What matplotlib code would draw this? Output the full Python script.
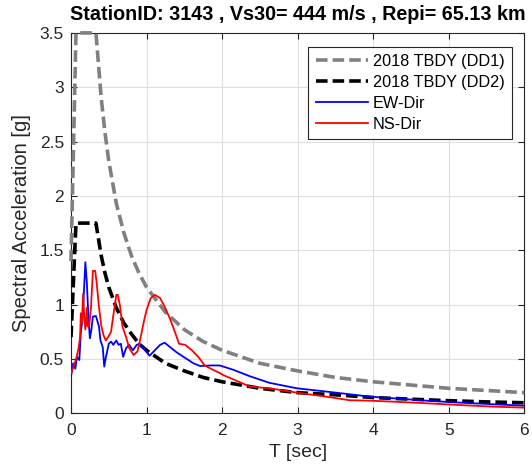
import matplotlib
matplotlib.use("Agg")
import matplotlib.pyplot as plt

plt.rcParams['font.family'] = ['Liberation Sans', 'DejaVu Sans']

# Design spectra
T_dd = [0.0, 0.066, 0.33, 0.4, 0.45, 0.5, 0.6, 0.7, 0.8, 0.9, 1.0, 1.25, 1.5, 1.75,
        2.0, 2.5, 3.0, 3.5, 4.0, 4.5, 5.0, 5.5, 6.0]
dd1 = [1.40, 3.50, 3.50, 2.90, 2.58, 2.32, 1.93, 1.66, 1.45, 1.29, 1.16, 0.93, 0.77, 0.66,
       0.58, 0.46, 0.39, 0.33, 0.29, 0.26, 0.23, 0.21, 0.19]
dd2 = [0.70, 1.75, 1.75, 1.45, 1.29, 1.16, 0.97, 0.83, 0.73, 0.64, 0.58, 0.46, 0.39, 0.33,
       0.29, 0.23, 0.19, 0.17, 0.145, 0.13, 0.116, 0.105, 0.097]

# EW direction
T_ew = [0.0, 0.03, 0.057, 0.08, 0.11, 0.13, 0.155, 0.19, 0.21, 0.23, 0.25, 0.27, 0.29, 0.33,
        0.37, 0.39, 0.42, 0.44, 0.46, 0.50, 0.53, 0.56, 0.60, 0.63, 0.66, 0.69, 0.73, 0.77,
        0.82, 0.87, 0.91, 0.98, 1.04, 1.11, 1.18, 1.24, 1.31, 1.40, 1.51, 1.62, 1.71, 1.84,
        1.97, 2.15, 2.37, 2.63, 2.99, 3.38, 3.69, 3.96, 4.27, 4.71, 5.15, 5.59, 6.0]
ew = [0.34, 0.46, 0.41, 0.52, 0.49, 0.74, 0.89, 1.39, 1.20, 0.89, 0.69, 0.77, 0.89, 0.895,
      0.80, 0.67, 0.61, 0.43, 0.51, 0.64, 0.66, 0.63, 0.67, 0.63, 0.64, 0.52, 0.60, 0.63,
      0.58, 0.63, 0.64, 0.58, 0.53, 0.58, 0.63, 0.65, 0.61, 0.56, 0.51, 0.46, 0.435, 0.44,
      0.44, 0.40, 0.34, 0.28, 0.23, 0.20, 0.175, 0.153, 0.138, 0.116, 0.098, 0.083, 0.07]

# NS direction
T_ns = [0.0, 0.04, 0.075, 0.10, 0.12, 0.13, 0.145, 0.16, 0.175, 0.19, 0.21, 0.22, 0.24, 0.265,
        0.29, 0.32, 0.34, 0.37, 0.40, 0.43, 0.46, 0.50, 0.53, 0.56, 0.60, 0.62, 0.65, 0.68,
        0.73, 0.77, 0.83, 0.88, 0.91, 0.96, 1.0, 1.055, 1.11, 1.18, 1.24, 1.31, 1.38, 1.43,
        1.51, 1.60, 1.69, 1.77, 1.88, 1.97, 2.02, 2.19, 2.37, 2.63, 2.99, 3.38, 3.69, 3.96,
        4.27, 4.71, 5.15, 5.59, 6.0]
ns = [0.37, 0.44, 0.52, 0.60, 0.70, 0.92, 0.83, 1.10, 0.89, 0.77, 0.97, 0.80, 0.80, 0.98,
      1.31, 1.31, 1.20, 0.98, 0.81, 0.72, 0.67, 0.71, 0.75, 0.90, 1.09, 1.09, 0.98, 0.80,
      0.70, 0.60, 0.536, 0.57, 0.66, 0.83, 0.95, 1.06, 1.09, 1.06, 0.98, 0.87, 0.74, 0.64,
      0.63, 0.58, 0.515, 0.44, 0.40, 0.37, 0.35, 0.30, 0.245, 0.23, 0.19, 0.153, 0.12, 0.116,
      0.107, 0.092, 0.076, 0.061, 0.052]

xticks = [0, 1, 2, 3, 4, 5, 6]
yticks = [0, 0.5, 1, 1.5, 2, 2.5, 3, 3.5]
ytick_labels = ['0', '0.5', '1', '1.5', '2', '2.5', '3', '3.5']

fig = plt.figure(figsize=(5.32, 4.75), dpi=100)
ax = fig.add_axes([71/532, 1-413.3/475, 453.3/532, 380.4/475])

ax.plot(T_dd, dd1, color='#808080', lw=2.6, ls=(0, (3.2, 1.4)), label='2018 TBDY (DD1)', clip_on=False, zorder=3)
ax.plot(T_dd, dd2, color='black', lw=2.6, ls=(0, (3.2, 1.4)), label='2018 TBDY (DD2)', zorder=3)
ax.plot(T_ew, ew, color='#0000ff', lw=1.3, label='EW-Dir', zorder=4)
ax.plot(T_ns, ns, color='#ff0000', lw=1.3, label='NS-Dir', zorder=4)

ax.set_xlim(0, 6)
ax.set_ylim(0, 3.5)
ax.set_xticks(xticks)
ax.set_yticks(yticks)
ax.set_yticklabels(ytick_labels)
ax.tick_params(direction='in', top=True, right=True, labelsize=12.5, length=4,
               colors='#262626', labelcolor='#262626')
ax.tick_params(axis='x', pad=7)
ax.tick_params(axis='y', pad=5)
for s in ax.spines.values():
    s.set_color('#262626')
    s.set_linewidth(0.8)
ax.grid(True, color='#dfdfdf', lw=0.8)
ax.set_axisbelow(True)

ax.set_xlabel('T [sec]', fontsize=14, labelpad=4, color='#262626')
ax.set_ylabel('Spectral Acceleration [g]', fontsize=14.5, labelpad=6, color='#262626')
ax.set_title('StationID: 3143 , Vs30= 444 m/s , Repi= 65.13 km', fontsize=14.2,
             fontweight='bold', pad=9)

leg = ax.legend(loc='upper right', bbox_to_anchor=(0.99, 0.985), fontsize=11.7, fancybox=False,
                framealpha=1, edgecolor='#262626', handlelength=3.2, borderpad=0.45,
                labelspacing=0.36, handletextpad=0.3)
leg.get_frame().set_linewidth(0.8)

fig.savefig('out.png', dpi=100)
